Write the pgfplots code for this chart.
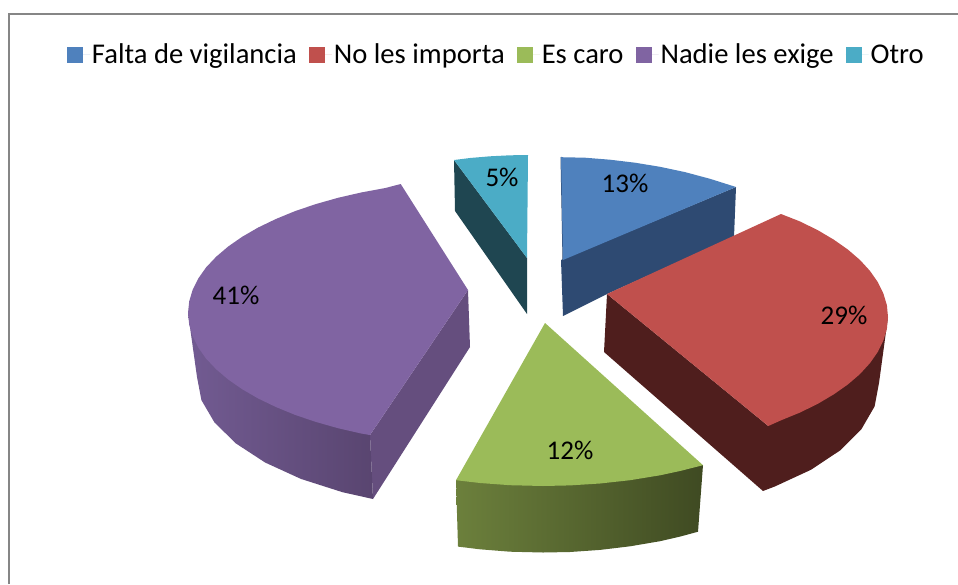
\documentclass[border=0pt]{standalone}
\usepackage{fontspec}
\setmainfont{Carlito}
\usepackage{pgfplots}
\pgfplotsset{compat=1.18}
\definecolor{cblue}{HTML}{4F81BD}
\definecolor{cbluedk}{HTML}{2E4A72}
\definecolor{cred}{HTML}{C0504D}
\definecolor{creddk}{HTML}{4F1E1D}
\definecolor{cgreen}{HTML}{9BBB59}
\definecolor{cgreenl}{HTML}{6C803C}
\definecolor{cgreenr}{HTML}{3F4A22}
\definecolor{cpurple}{HTML}{8064A2}
\definecolor{cpurplel}{HTML}{725B92}
\definecolor{cpurpler}{HTML}{594570}
\definecolor{cpurplef}{HTML}{654E7E}
\definecolor{ccyan}{HTML}{4BACC6}
\definecolor{ccyandk}{HTML}{1F4651}
\definecolor{cframe}{HTML}{868686}
\begin{document}
\begin{tikzpicture}
\useasboundingbox (0,0) rectangle (958pt,584pt);
\begin{axis}[
  scale only axis, width=958pt, height=584pt,
  xmin=0, xmax=958, ymin=0, ymax=584, y dir=reverse,
  hide axis, no markers,
  legend columns=-1,
  legend image code/.code={\fill[#1] (0pt,-8pt) rectangle (16pt,8pt);\path (0pt,0pt) -- (23pt,0pt);},
  legend style={at={(axis cs:67,54.5)}, anchor=west, draw=none, fill=none, inner sep=0pt, outer sep=0pt,
    font=\fontsize{28.6}{29}\selectfont,
    /tikz/every even column/.append style={column sep=10pt}},
]
% Falta de vigilancia
\addplot[forget plot, draw=none, fill=cbluedk] coordinates {(561,260)(736,187)(734,237)(607,294)(563,316)} -- cycle;
\addplot[forget plot, cbluedk, line width=1pt] coordinates {(561,157)(563,260)};
\addplot[draw=none, fill=cblue] coordinates {(561,157.2)(585,157.7)(610,159.7)(635,162.7)(660,166.8)(685,172.1)(710,178.8)(736,187)(563,260)} -- cycle;
\addlegendentry{Falta de vigilancia\strut}
% No les importa
\addplot[forget plot, draw=none, fill=creddk] coordinates {(607,294)(768.3,426)(888,317)(879,383)(874.6,406.4)(861.4,429.2)(840,450.5)(810.9,469.8)(775,486.4)(763,491)(604,352)} -- cycle;
\addplot[draw=none, fill=cred] coordinates {(607,294)(781,214)(800.1,221.5)(817.8,230.2)(833.7,239.6)(847.8,249.5)(859.9,259.9)(869.9,270.8)(877.8,282.1)(883.4,293.6)(886.9,305.2)(888,317)(886.9,328.8)(883.4,340.4)(877.8,351.9)(869.9,363.2)(859.9,374.1)(847.8,384.5)(833.7,394.4)(817.8,403.8)(800.1,412.5)(780.8,420.4)(768.3,426)} -- cycle;
\addlegendentry{No les importa\strut}
% Es caro
\addplot[forget plot, draw=none, left color=cgreenl, right color=cgreenr] coordinates {(456,480)(703,465)(698,531.7)(680,536.6)(660,541.2)(630,546.3)(600,549.9)(570,552)(543,552.5)(510,551.7)(480,549.3)(458,546.6)} -- cycle;
\addplot[draw=none, fill=cgreen] coordinates {(545,323)(703,465.2)(680,471)(660,475.3)(630,480.2)(600,483.5)(570,485.4)(543,486)(510,485.2)(480,483)(456,480.2)} -- cycle;
\addlegendentry{Es caro\strut}
% Nadie les exige
\addplot[forget plot, draw=none, fill=cpurplef] coordinates {(370,435)(468,290)(470,347)(373,499)} -- cycle;
\addplot[forget plot, draw=none, left color=cpurplel, right color=cpurpler] coordinates {(188,313)(197,377)(201.4,400.1)(214.5,422.5)(236,443.5)(265.1,462.5)(300.9,478.9)(342.5,492.2)(373,499)(370,435)(300,400)} -- cycle;
\addplot[draw=none, fill=cpurple] coordinates {(400.7,184)(385.4,188)(361.1,192.5)(338,197.8)(315.8,204.1)(295.1,211.1)(275.9,219)(258.2,227.5)(242.3,236.7)(228.2,246.5)(216.2,256.7)(206,267.5)(198.2,278.6)(192.6,289.9)(189.2,301.4)(188,313)(189.2,324.6)(192.6,336.1)(198.2,347.4)(206,358.5)(216.2,369.3)(228.2,379.5)(242.3,389.3)(258.2,398.5)(275.9,407)(295.1,414.9)(315.8,421.9)(338,428.2)(361.1,433.5)(370,435)(468,290)} -- cycle;
\addlegendentry{Nadie les exige\strut}
% Otro
\addplot[forget plot, draw=none, fill=ccyandk] coordinates {(454,160)(527,258)(527,314)(455,211)} -- cycle;
\addplot[draw=none, fill=ccyan] coordinates {(454,160)(470,158)(490,156.3)(510,155.3)(528,155)(527,258)} -- cycle;
\addlegendentry{Otro\strut}
% frame
\addplot[forget plot, cframe, line width=2pt] coordinates {(9,584)(9,13.5)(958,13.5)};
\node[font=\fontsize{27}{27}\selectfont] at (axis cs:625,183) {13\%};
\node[font=\fontsize{27}{27}\selectfont] at (axis cs:844,315) {29\%};
\node[font=\fontsize{27}{27}\selectfont] at (axis cs:570,450) {12\%};
\node[font=\fontsize{27}{27}\selectfont] at (axis cs:236,295) {41\%};
\node[font=\fontsize{27}{27}\selectfont] at (axis cs:502,177) {5\%};
\end{axis}
\end{tikzpicture}
\end{document}
